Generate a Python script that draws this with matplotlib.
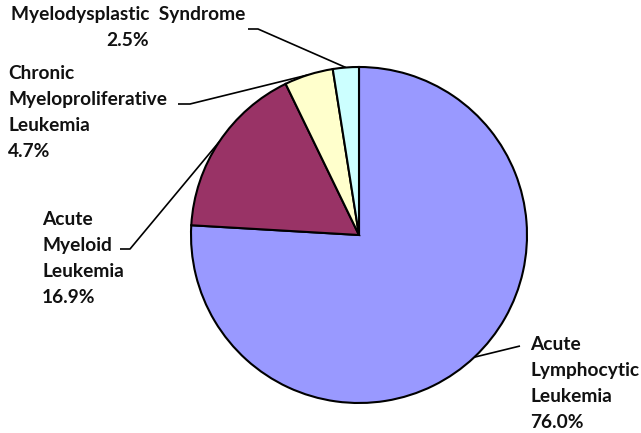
import numpy as np
import matplotlib
matplotlib.use("Agg")
import matplotlib.pyplot as plt

categories = ["Acute\nLymphocytic\nLeukemia", "Acute\nMyeloid\nLeukemia",
              "Chronic\nMyeloproliferative\nLeukemia", "Myelodysplastic  Syndrome"]
values = [76.0, 16.9, 4.7, 2.5]
pct_labels = ["76.0%", "16.9%", "4.7%", "2.5%"]
colors = ["#9999FF", "#993366", "#FFFFCC", "#CCFFFF"]

W, H = 641, 433
fig = plt.figure(figsize=(W / 100, H / 100), dpi=100)
ax = fig.add_axes([0, 0, 1, 1])

cx, cy, r = 359, H - 235, 168
wedges, _ = ax.pie(values, colors=colors, startangle=90, counterclock=False,
                   center=(cx, cy), radius=r, frame=True,
                   wedgeprops=dict(edgecolor="black", linewidth=1.5))
ax.set_xlim(0, W)
ax.set_ylim(0, H)
ax.axis("off")

font = dict(family=["Lato", "DejaVu Sans"], fontweight="bold", fontsize=13.8, color="#111111")

# label layouts: (x, y of first-line centre in px, alignment, leader elbow points in px)
layout = [
    dict(x=530, y=346, ha="left", ma="left", elbow=[(520, 346)]),
    dict(x=42, y=221, ha="left", ma="left", elbow=[(120, 249), (130, 249)]),
    dict(x=8, y=75, ha="left", ma="left", elbow=[(178, 104), (190, 104)]),
    dict(x=128, y=16, ha="center", ma="center", elbow=[(248, 29), (258, 29)]),
]

for w, cat, pct, lay in zip(wedges, categories, pct_labels, layout):
    ax.text(lay["x"], H - lay["y"] + 10, cat + "\n" + pct, ha=lay["ha"], va="top",
            multialignment=lay["ma"], linespacing=1.65, **font)
    mid = np.deg2rad((w.theta1 + w.theta2) / 2)
    ex, ey = cx + r * np.cos(mid), cy + r * np.sin(mid)
    pts = [(px, H - py) for px, py in lay["elbow"]]
    xs = [p[0] for p in pts] + [ex]
    ys = [p[1] for p in pts] + [ey]
    ax.plot(xs, ys, color="black", lw=1.2, zorder=0.5, solid_capstyle="butt")

fig.savefig("out.png", dpi=100, facecolor="white")
